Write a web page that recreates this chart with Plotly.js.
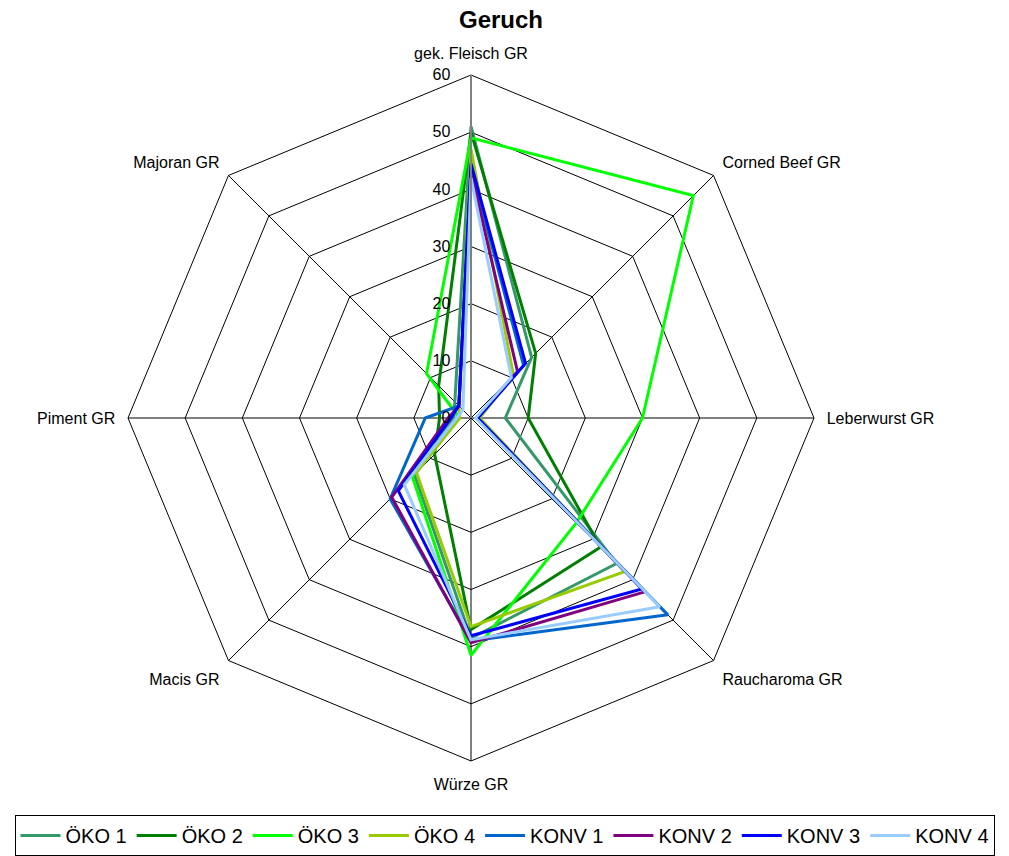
<!DOCTYPE html>
<html><head><meta charset="utf-8">
<script src="https://cdn.plot.ly/plotly-3.0.1.min.js"></script>
<style>html,body{margin:0;padding:0;background:#fff}</style>
</head><body><div id="chart" style="width:1009px;height:856px"></div>
<script>
const categories = ["gek. Fleisch GR","Corned Beef GR","Leberwurst GR","Raucharoma GR","Würze GR","Macis GR","Piment GR","Majoran GR"];
const seriesNames = ["ÖKO 1","ÖKO 2","ÖKO 3","ÖKO 4","KONV 1","KONV 2","KONV 3","KONV 4"];
const oeko1 = [51, 15, 6, 36, 38.5, 14, 3, 4];
const oeko2 = [50, 16, 10, 32, 37, 9, 5.5, 8];
const oeko3 = [49, 55, 30, 26, 41.5, 14.5, 2, 11];
const oeko4 = [47, 10.5, 1.5, 38, 36.5, 13.5, 2, 3];
const konv1 = [44, 13, 1, 48.7, 39, 20, 8, 3];
const konv2 = [43, 11.5, 1, 43, 39.3, 19.6, 4, 3];
const konv3 = [44.5, 13.5, 1.2, 42.3, 38.1, 18, 3.5, 3];
const konv4 = [42, 10, 0.8, 46.7, 38.8, 16.5, 2.5, 2];
const radialTicks = [0,10,20,30,40,50,60];
const colors = ["#339966","#008000","#00FF00","#99CC00","#0066CC","#800080","#0000FF","#99CCFF"];
const allSeries = [oeko1,oeko2,oeko3,oeko4,konv1,konv2,konv3,konv4];

const traces = allSeries.map((vals,i)=>({
  type:'scatterpolar',
  r: vals.concat([vals[0]]),
  theta: categories.concat([categories[0]]),
  mode:'lines',
  name: seriesNames[i],
  line:{color:colors[i], width:3},
  hoverinfo:'skip'
}));

const W=1009,H=856;
const cx=471, cy=418, R=343;
const layout = {
  width:W, height:H,
  margin:{l:0,r:0,t:0,b:0},
  paper_bgcolor:'#fff',
  font:{family:'Liberation Sans, Arial, sans-serif', size:16, color:'#000'},
  title:{text:'<b>Geruch</b>', x:501/W, xanchor:'center', y:1-20/H, yanchor:'middle', font:{size:24, color:'#000'}},
  showlegend:true,
  legend:{orientation:'h', x:0.5, xanchor:'center', y:0, yanchor:'bottom',
    bordercolor:'#000', borderwidth:1, font:{size:20}, itemwidth:40, tracegroupgap:0},
  polar:{
    domain:{x:[(cx-R)/W,(cx+R)/W], y:[1-(cy+R)/H, 1-(cy-R)/H]},
    gridshape:'linear',
    bgcolor:'#fff',
    radialaxis:{range:[0,60], tickvals:radialTicks, ticktext:radialTicks.map(String),
      angle:90, tickangle:90, side:'counterclockwise',
      showline:true, linecolor:'#808080', linewidth:2,
      gridcolor:'#000', gridwidth:1, ticks:'outside', ticklen:14, tickcolor:'rgba(0,0,0,0)', tickfont:{size:16}},
    angularaxis:{rotation:90, direction:'clockwise', showline:true, linecolor:'#000', linewidth:1,
      gridcolor:'#000', gridwidth:1, ticks:'outside', ticklen:9, tickcolor:'rgba(0,0,0,0)', tickfont:{size:16}}
  }
};
Plotly.newPlot('chart', traces, layout, {displayModeBar:false, staticPlot:true});
</script></body></html>
